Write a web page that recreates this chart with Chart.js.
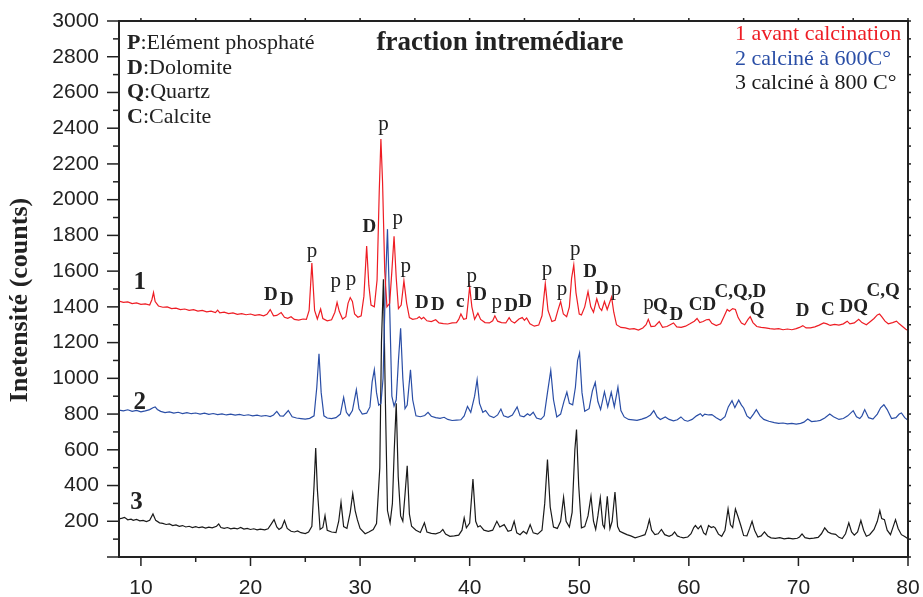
<!DOCTYPE html>
<html><head><meta charset="utf-8">
<script src="https://cdn.jsdelivr.net/npm/chart.js@4.4.0/dist/chart.umd.min.js"></script>
<style>html,body{margin:0;padding:0;background:#fff}#wrap{width:923px;height:597px}</style>
</head><body><div id="wrap"><canvas id="c" width="923" height="597"></canvas></div>
<script>
// ---- data (2-theta in degrees, intensity in counts) ----
const xTicks = [10, 20, 30, 40, 50, 60, 70, 80];
const yTicks = [200, 400, 600, 800, 1000, 1200, 1400, 1600, 1800, 2000, 2200, 2400, 2600, 2800, 3000];
const seriesNames = ["1 avant calcination", "2 calciné à 600C°", "3 calciné à 800 C°"];

const series1 = [[8.0,1432],[8.4,1425],[8.8,1428],[9.2,1418],[9.6,1422],[10.0,1414],[10.4,1417],[10.8,1410],[11.0,1440],[11.15,1480],[11.3,1430],[11.6,1405],[12.0,1398],[12.4,1400],[12.8,1390],[13.2,1393],[13.6,1385],[14.0,1388],[14.4,1380],[14.8,1384],[15.2,1376],[15.6,1380],[16.0,1372],[16.4,1376],[16.8,1368],[17.0,1382],[17.2,1366],[17.6,1370],[18.0,1362],[18.4,1366],[18.8,1358],[19.2,1362],[19.6,1356],[20.0,1360],[20.4,1352],[20.8,1356],[21.2,1350],[21.5,1358],[21.8,1385],[22.1,1350],[22.4,1352],[22.8,1368],[23.1,1342],[23.4,1336],[23.7,1345],[24.0,1330],[24.4,1326],[24.8,1332],[25.1,1330],[25.35,1380],[25.6,1645],[25.85,1380],[26.1,1332],[26.4,1388],[26.6,1335],[27.0,1322],[27.4,1328],[27.7,1370],[27.9,1425],[28.1,1375],[28.4,1332],[28.7,1345],[28.9,1420],[29.1,1452],[29.3,1430],[29.5,1360],[29.8,1342],[30.1,1350],[30.35,1460],[30.6,1740],[30.8,1520],[31.0,1410],[31.3,1400],[31.55,1550],[31.75,2050],[31.9,2340],[32.05,2100],[32.25,1600],[32.45,1400],[32.7,1420],[32.9,1600],[33.1,1795],[33.3,1560],[33.5,1390],[33.75,1410],[34.0,1545],[34.25,1420],[34.5,1340],[34.8,1330],[35.2,1335],[35.4,1345],[35.6,1332],[35.8,1342],[36.1,1322],[36.5,1318],[36.9,1328],[37.2,1310],[37.6,1306],[38.0,1304],[38.4,1310],[38.8,1312],[39.0,1330],[39.2,1360],[39.45,1330],[39.7,1335],[39.85,1420],[40.0,1515],[40.2,1400],[40.45,1330],[40.75,1365],[41.0,1330],[41.4,1312],[41.8,1310],[42.1,1322],[42.3,1350],[42.55,1320],[42.9,1312],[43.3,1310],[43.6,1340],[43.8,1320],[44.1,1310],[44.5,1332],[44.8,1340],[45.0,1325],[45.2,1338],[45.5,1305],[45.9,1292],[46.3,1298],[46.6,1350],[46.9,1530],[47.15,1380],[47.5,1318],[47.8,1325],[48.05,1380],[48.3,1430],[48.55,1360],[48.85,1345],[49.1,1400],[49.3,1560],[49.5,1635],[49.7,1480],[50.0,1360],[50.2,1355],[50.5,1400],[50.8,1485],[51.05,1400],[51.3,1370],[51.6,1445],[51.85,1395],[52.05,1380],[52.3,1430],[52.55,1385],[52.75,1420],[52.95,1455],[53.15,1370],[53.4,1300],[53.8,1285],[54.2,1282],[54.6,1275],[55.0,1278],[55.4,1270],[55.8,1282],[56.1,1300],[56.3,1330],[56.55,1290],[56.9,1292],[57.3,1318],[57.6,1285],[58.0,1290],[58.3,1300],[58.6,1310],[58.9,1288],[59.3,1285],[59.7,1292],[60.1,1305],[60.5,1320],[60.75,1335],[61.0,1312],[61.3,1318],[61.6,1328],[61.85,1330],[62.1,1308],[62.5,1295],[62.9,1305],[63.2,1345],[63.5,1385],[63.7,1375],[64.0,1390],[64.25,1385],[64.5,1340],[64.8,1310],[65.1,1300],[65.4,1330],[65.6,1345],[65.85,1312],[66.2,1290],[66.6,1285],[67.0,1282],[67.4,1278],[67.8,1275],[68.2,1278],[68.6,1272],[69.0,1276],[69.4,1272],[69.8,1278],[70.1,1285],[70.4,1295],[70.7,1282],[71.1,1282],[71.5,1288],[71.9,1298],[72.3,1310],[72.6,1305],[72.9,1296],[73.3,1302],[73.7,1298],[74.1,1305],[74.45,1320],[74.7,1305],[75.1,1310],[75.5,1330],[75.8,1312],[76.2,1300],[76.6,1320],[76.9,1335],[77.2,1355],[77.4,1360],[77.6,1345],[77.9,1320],[78.2,1305],[78.6,1312],[78.95,1320],[79.2,1305],[79.5,1290],[79.8,1275],[80.0,1268]];

const series2 = [[8.0,822],[8.4,818],[8.8,824],[9.2,815],[9.6,820],[10.0,812],[10.4,818],[10.8,825],[11.1,835],[11.3,840],[11.5,826],[11.8,815],[12.2,808],[12.6,812],[13.0,805],[13.4,810],[13.8,803],[14.2,808],[14.6,802],[15.0,806],[15.4,800],[15.8,805],[16.2,798],[16.6,803],[17.0,797],[17.4,801],[17.8,795],[18.2,800],[18.6,794],[19.0,798],[19.4,792],[19.8,796],[20.2,790],[20.6,794],[21.0,788],[21.4,792],[21.8,786],[22.1,795],[22.4,815],[22.7,790],[23.0,788],[23.45,820],[23.8,785],[24.2,778],[24.6,775],[25.0,772],[25.4,776],[25.8,790],[26.05,950],[26.25,1138],[26.45,920],[26.7,790],[27.0,778],[27.4,775],[27.8,780],[28.2,800],[28.5,893],[28.75,810],[29.0,790],[29.3,820],[29.66,936],[29.9,830],[30.2,800],[30.6,805],[30.9,840],[31.1,980],[31.3,1048],[31.5,920],[31.7,850],[31.9,860],[32.1,1000],[32.3,1500],[32.5,1835],[32.7,1400],[32.9,900],[33.1,845],[33.3,880],[33.5,1100],[33.7,1280],[33.9,1000],[34.1,830],[34.3,850],[34.45,950],[34.6,1048],[34.8,880],[35.1,790],[35.5,785],[35.9,792],[36.2,810],[36.5,788],[36.9,780],[37.3,776],[37.67,782],[38.0,770],[38.4,764],[38.8,766],[39.2,768],[39.5,790],[39.8,843],[40.1,810],[40.45,900],[40.68,992],[40.9,860],[41.2,810],[41.45,820],[41.8,790],[42.2,780],[42.55,795],[42.85,828],[43.1,790],[43.5,782],[43.9,795],[44.33,840],[44.6,790],[44.95,785],[45.28,802],[45.5,792],[45.8,810],[46.1,778],[46.5,770],[46.8,790],[47.1,920],[47.4,1044],[47.65,880],[47.95,784],[48.3,800],[48.6,870],[48.87,923],[49.1,860],[49.4,852],[49.65,950],[49.85,1100],[50.03,1142],[50.25,920],[50.5,815],[50.9,830],[51.2,930],[51.46,977],[51.7,870],[51.95,825],[52.3,925],[52.6,840],[52.92,922],[53.2,840],[53.53,951],[53.8,820],[54.1,784],[54.5,770],[54.9,768],[55.27,765],[55.7,772],[56.1,780],[56.5,795],[56.8,819],[57.1,785],[57.4,770],[57.85,784],[58.2,770],[58.6,762],[58.95,768],[59.28,784],[59.6,765],[59.9,760],[60.3,770],[60.7,790],[61.05,802],[61.25,788],[61.45,800],[61.8,795],[62.1,797],[62.5,780],[62.9,765],[63.3,785],[63.6,840],[63.94,875],[64.2,836],[64.55,878],[64.8,850],[65.0,834],[65.3,790],[65.6,775],[65.9,800],[66.16,825],[66.5,790],[66.84,770],[67.3,760],[67.8,752],[68.2,748],[68.6,750],[69.0,745],[69.4,748],[69.8,744],[70.2,748],[70.5,755],[70.85,772],[71.2,758],[71.6,760],[72.0,765],[72.4,778],[72.86,800],[73.2,785],[73.7,770],[74.1,775],[74.5,790],[75.0,819],[75.3,785],[75.6,775],[75.8,790],[76.05,825],[76.4,780],[76.8,772],[77.2,800],[77.5,835],[77.8,852],[78.1,825],[78.5,775],[78.9,780],[79.2,800],[79.4,806],[79.7,780],[80.0,765]];

const series3 = [[8.0,213],[8.3,218],[8.5,222],[8.8,208],[9.1,212],[9.3,205],[9.6,210],[9.9,202],[10.2,205],[10.5,198],[10.8,205],[11.1,241],[11.35,205],[11.7,191],[12.0,188],[12.3,182],[12.6,185],[12.9,176],[13.2,180],[13.5,172],[13.8,176],[14.1,168],[14.4,172],[14.7,165],[15.0,170],[15.3,164],[15.6,168],[15.9,162],[16.2,167],[16.5,163],[16.9,172],[17.1,185],[17.3,165],[17.6,160],[17.9,165],[18.2,158],[18.5,162],[18.8,157],[19.1,165],[19.4,156],[19.7,160],[20.0,154],[20.3,158],[20.6,152],[20.9,156],[21.3,152],[21.6,158],[21.9,185],[22.15,209],[22.4,168],[22.6,154],[22.85,165],[23.1,204],[23.35,160],[23.7,144],[24.0,140],[24.3,146],[24.6,136],[25.0,131],[25.3,140],[25.6,172],[25.8,400],[25.95,610],[26.1,380],[26.35,154],[26.6,165],[26.8,232],[27.0,150],[27.4,140],[27.8,137],[28.05,200],[28.26,306],[28.5,170],[28.8,160],[29.1,250],[29.33,355],[29.55,260],[29.75,209],[30.0,160],[30.46,130],[30.8,140],[31.2,154],[31.5,187],[31.8,500],[31.95,1200],[32.13,1555],[32.3,900],[32.5,260],[32.74,191],[32.95,300],[33.12,600],[33.3,860],[33.48,450],[33.7,230],[33.9,200],[34.1,350],[34.3,511],[34.5,240],[34.7,172],[35.1,150],[35.5,137],[35.87,191],[36.1,140],[36.5,132],[36.9,130],[37.3,138],[37.55,154],[37.8,128],[38.2,116],[38.6,118],[39.0,122],[39.3,150],[39.5,219],[39.7,163],[40.0,190],[40.3,437],[40.55,200],[40.75,168],[40.96,175],[41.3,150],[41.7,144],[42.1,150],[42.48,200],[42.75,168],[43.15,181],[43.5,144],[43.8,150],[44.06,200],[44.3,135],[44.6,125],[44.9,144],[45.2,130],[45.52,181],[45.8,135],[46.2,128],[46.6,150],[46.85,300],[47.1,545],[47.35,280],[47.65,168],[48.0,160],[48.3,200],[48.57,334],[48.8,200],[49.1,168],[49.35,250],[49.6,600],[49.75,713],[49.95,400],[50.2,163],[50.5,170],[50.8,230],[51.07,340],[51.3,200],[51.5,154],[51.7,230],[51.92,331],[52.15,180],[52.3,163],[52.56,340],[52.8,158],[53.0,200],[53.26,364],[53.5,170],[53.7,144],[54.0,135],[54.35,125],[54.7,118],[55.1,107],[55.5,115],[56.0,125],[56.2,160],[56.4,209],[56.6,150],[56.9,125],[57.2,130],[57.5,154],[57.8,125],[58.2,116],[58.5,125],[58.7,140],[58.95,118],[59.2,112],[59.5,107],[59.9,112],[60.2,130],[60.45,165],[60.6,176],[60.85,158],[61.1,176],[61.35,135],[61.55,125],[61.8,176],[62.05,165],[62.25,170],[62.4,163],[62.7,128],[63.0,116],[63.3,150],[63.58,269],[63.8,180],[64.0,165],[64.25,269],[64.5,224],[64.75,175],[65.0,120],[65.3,118],[65.55,160],[65.77,200],[66.0,150],[66.3,112],[66.6,118],[66.9,140],[67.2,118],[67.5,107],[67.9,104],[68.3,108],[68.7,102],[69.1,106],[69.5,101],[69.9,105],[70.1,112],[70.33,129],[70.6,108],[71.0,103],[71.4,106],[71.8,110],[72.1,130],[72.4,163],[72.7,140],[73.0,131],[73.4,127],[73.7,110],[74.0,103],[74.3,130],[74.6,191],[74.85,140],[75.1,122],[75.4,140],[75.7,204],[75.95,150],[76.2,116],[76.5,125],[76.9,154],[77.2,200],[77.43,260],[77.6,215],[77.85,209],[78.1,150],[78.4,125],[78.65,170],[78.86,209],[79.1,160],[79.4,125],[79.7,115],[80.0,102]];

// peak annotations: [text, 2theta, counts, bold]
const peakLabels = [
 ["D",21.85,1468,true],["D",23.31,1440,true],["p",25.62,1710,false],["p",27.78,1542,false],["p",29.18,1555,false],
 ["D",30.85,1846,true],["p",32.13,2418,false],["p",33.44,1897,false],["p",34.17,1626,false],
 ["D",35.63,1421,true],["D",37.10,1412,true],["c",39.13,1425,true],["p",40.20,1570,false],["D",40.96,1468,true],
 ["p",42.48,1425,false],["D",43.79,1406,true],["D",45.07,1425,true],["p",47.05,1607,false],["p",48.42,1496,false],
 ["p",49.63,1719,false],["D",51.0,1592,true],["D",52.07,1500,true],["p",53.35,1500,false],["p",56.33,1421,false],
 ["Q",57.40,1402,true],["D",58.86,1356,true],["CD",61.24,1412,true],["C,Q,D",64.70,1481,true],["Q",66.23,1384,true],
 ["D",70.39,1374,true],["C",72.68,1384,true],["DQ",75.05,1399,true],["C,Q",77.73,1486,true]
];
const curveNumbers = [["1",9.9,1534],["2",9.9,865],["3",9.6,305]];
const phaseKey = [["P",":Elément phosphaté"],["D",":Dolomite"],["Q",":Quartz"],["C",":Calcite"]];
const colors = ["#ee1d24","#2a4ea6","#1a1a1a"];

const toPts = s => s.map(p => ({x:p[0], y:p[1]}));
const SERIF = '"Liberation Serif","Times New Roman",serif';
const SANS = '"Liberation Sans",Arial,sans-serif';

const decor = {
  id:'decor',
  afterDraw(chart){
    const {ctx, chartArea:a, scales:{x, y}} = chart;
    ctx.save();
    ctx.strokeStyle = '#222'; ctx.lineWidth = 2;
    ctx.strokeRect(a.left, a.top, a.right - a.left, a.bottom - a.top);
    ctx.lineWidth = 1.5;
    const seg = (x1,y1,x2,y2)=>{ctx.beginPath();ctx.moveTo(x1,y1);ctx.lineTo(x2,y2);ctx.stroke();};
    for (let v = 0; v <= 3000; v += 100) {
      const py = y.getPixelForValue(v);
      const major = v % 200 === 0;
      seg(a.left - (major ? 12 : 6), py, a.left, py);
      seg(a.right, py, a.right + 3, py);
    }
    for (let v = 10; v <= 80; v += 5) {
      const px = x.getPixelForValue(v);
      const major = v % 10 === 0;
      seg(px, a.bottom, px, a.bottom + (major ? 9 : 5));
      seg(px, a.top, px, a.top - 3);
    }
    // peak labels
    ctx.textAlign = 'center'; ctx.textBaseline = 'middle';
    peakLabels.forEach(([t, tx, ty, b]) => {
      ctx.fillStyle = '#222';
      ctx.font = b ? 'bold 19px ' + SERIF : '21px ' + SERIF;
      ctx.fillText(t, x.getPixelForValue(tx), y.getPixelForValue(ty));
    });
    curveNumbers.forEach(([t, tx, ty]) => {
      ctx.font = 'bold 25px ' + SERIF; ctx.fillStyle = '#222';
      ctx.fillText(t, x.getPixelForValue(tx), y.getPixelForValue(ty));
    });
    // phase key
    ctx.textAlign = 'left'; ctx.textBaseline = 'alphabetic';
    phaseKey.forEach(([k, rest], i) => {
      const yy = a.top + 28 + i * 24.7;
      ctx.font = 'bold 22px ' + SERIF;
      ctx.fillText(k, 127, yy);
      const w = ctx.measureText(k).width;
      ctx.font = '22px ' + SERIF;
      ctx.fillText(rest, 127 + w, yy);
    });
    // title
    ctx.textAlign = 'center';
    ctx.font = 'bold 27px ' + SERIF;
    ctx.fillText('fraction intremédiare', 500, 50);
    // series legend
    ctx.textAlign = 'left';
    ctx.font = '22px ' + SERIF;
    seriesNames.forEach((n, i) => {
      ctx.fillStyle = colors[i];
      ctx.fillText(n, 735, 40 + i * 24.7);
    });
    // y title
    ctx.fillStyle = '#222';
    ctx.translate(20, 300); ctx.rotate(-Math.PI/2);
    ctx.textAlign = 'center'; ctx.textBaseline = 'middle';
    ctx.font = 'bold 26px ' + SERIF;
    ctx.fillText('Inetensité (counts)', 0, 0);
    ctx.restore();
  }
};

new Chart(document.getElementById('c'), {
  type: 'line',
  data: {
    datasets: [series1, series2, series3].map((s, i) => ({
      label: seriesNames[i], data: toPts(s), borderColor: colors[i], borderWidth: 1.2,
      pointRadius: 0, tension: 0, fill: false
    }))
  },
  options: {
    responsive: false, animation: false, devicePixelRatio: 1,
    layout: {padding: {top: 21, right: 15, left: 0, bottom: 0}},
    plugins: {legend: {display: false}, tooltip: {enabled: false}},
    scales: {
      x: {
        type: 'linear', min: 8, max: 80,
        afterBuildTicks: s => { s.ticks = xTicks.map(v => ({value: v})); },
        afterFit: s => { s.height = 40; s.paddingLeft = 0; s.paddingRight = 0; },
        grid: {display: false, drawTicks: false}, border: {display: false},
        ticks: {font: {family: SANS, size: 21}, color: '#222', padding: 19, maxRotation: 0,
                callback: v => String(v)}
      },
      y: {
        min: 0, max: 3000,
        afterBuildTicks: s => { s.ticks = yTicks.map(v => ({value: v})); },
        afterFit: s => { s.width = 119; s.paddingTop = 0; s.paddingBottom = 0; },
        grid: {display: false, drawTicks: false}, border: {display: false},
        ticks: {font: {family: SANS, size: 21}, color: '#222', padding: 20,
                callback: v => String(v)}
      }
    }
  },
  plugins: [decor]
});
</script></body></html>
